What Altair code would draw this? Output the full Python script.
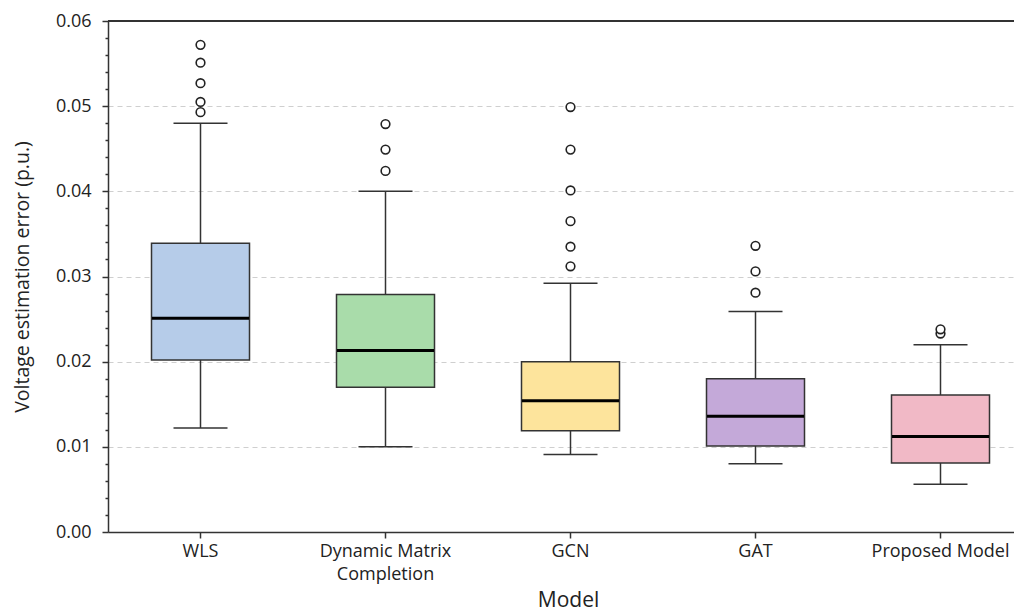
import altair as alt
import pandas as pd

models = ["WLS", "Dynamic Matrix Completion", "GCN", "GAT", "Proposed Model"]
colors = ["#b6cce9", "#a9dcaa", "#fde49c", "#c4a9d9", "#f1b9c6"]
q1 = [0.0202, 0.0170, 0.0119, 0.0101, 0.0081]
median = [0.0251, 0.0213, 0.0154, 0.0136, 0.0112]
q3 = [0.0339, 0.0279, 0.0200, 0.0180, 0.0161]
whisker_low = [0.0122, 0.0100, 0.0091, 0.0080, 0.0056]
whisker_high = [0.0480, 0.0400, 0.0292, 0.0259, 0.0220]
outliers_wls = [0.0493, 0.0505, 0.0527, 0.0551, 0.0572]
outliers_dmc = [0.0424, 0.0449, 0.0479]
outliers_gcn = [0.0312, 0.0335, 0.0365, 0.0401, 0.0449, 0.0499]
outliers_gat = [0.0281, 0.0306, 0.0336]
outliers_prop = [0.0233, 0.0238]
y_ticks = [round(i * 0.002, 3) for i in range(31)]

stats = pd.DataFrame({
    "model": models, "q1": q1, "median": median, "q3": q3,
    "lo": whisker_low, "hi": whisker_high,
})
out_rows = []
for m, vals in zip(models, [outliers_wls, outliers_dmc, outliers_gcn, outliers_gat, outliers_prop]):
    for v in vals:
        out_rows.append({"model": m, "value": v})
outs = pd.DataFrame(out_rows)

FONT = "Open Sans"
PLOT_W = 906
BAND_SPAN = 925
major_test = "abs(round(datum.value*100) - datum.value*100) < 0.001"

x_enc = alt.X(
    "model:N", sort=models,
    scale=alt.Scale(domain=models, paddingInner=0, paddingOuter=0, range=[0, BAND_SPAN]),
    axis=alt.Axis(
        title="Model", labelAngle=0, labelFontSize=18, labelFont=FONT, labelColor="#222",
        labelExpr="datum.label == 'Dynamic Matrix Completion' ? ['Dynamic Matrix', 'Completion'] : datum.label",
        labelLineHeight=23, labelPadding=4, tickSize=6, tickColor="#333", tickWidth=1.5,
        domainColor="#333", domainWidth=1.5, grid=False, labelOverlap=False, labelBound=False,
        titleFont=FONT, titleFontSize=21, titleFontWeight="normal", titleColor="#222",
        titleX=460, titleY=68, titleBaseline="middle",
    ),
)

y_scale = alt.Scale(domain=[0, 0.06], nice=False, zero=True)
y_axis = alt.Axis(
    title="Voltage estimation error (p.u.)", values=y_ticks, tickCount=100,
    labelExpr=major_test + " ? format(datum.value, '.2f') : ''",
    labelOverlap=False, labelFontSize=18, labelFont=FONT, labelColor="#222", labelPadding=11,
    tickSize={"condition": {"test": major_test, "value": 6}, "value": 3},
    tickColor="#333", tickWidth=1.5, domainColor="#333", domainWidth=1.5,
    grid=True, gridColor="#cfcfcf", gridDash=[5, 4], gridWidth=1,
    gridOpacity={"condition": {"test": major_test + " && datum.value > 0.001 && datum.value < 0.059", "value": 1}, "value": 0},
    titleFont=FONT, titleFontSize=19.5, titleFontWeight="normal", titleColor="#222",
    titleX=-86, titleY=255.5, titleAngle=-90, titleBaseline="middle",
)

base = alt.Chart(stats)

whisk = base.mark_rule(color="#333", strokeWidth=1.5).encode(
    x=x_enc, y=alt.Y("lo:Q", scale=y_scale, axis=y_axis), y2="hi:Q"
)
cap_lo = base.mark_tick(color="#333", size=54, thickness=1.5, opacity=1).encode(x=x_enc, y=alt.Y("lo:Q", scale=y_scale))
cap_hi = base.mark_tick(color="#333", size=54, thickness=1.5, opacity=1).encode(x=x_enc, y=alt.Y("hi:Q", scale=y_scale))
box = base.mark_bar(size=98, stroke="#333", strokeWidth=1.5, opacity=1).encode(
    x=x_enc, y=alt.Y("q1:Q", scale=y_scale), y2="q3:Q",
    color=alt.Color("model:N", scale=alt.Scale(domain=models, range=colors), legend=None),
)
med = base.mark_tick(color="#000", size=97, thickness=3, opacity=1).encode(x=x_enc, y=alt.Y("median:Q", scale=y_scale))
pts = alt.Chart(outs).mark_point(
    shape="circle", size=75, fill="white", stroke="#222", strokeWidth=1.6, opacity=1, filled=False
).encode(x=x_enc, y=alt.Y("value:Q", scale=y_scale))

top_frame = alt.Chart(stats).mark_rule(color="#333", strokeWidth=1.5).encode(
    x=alt.value(0), x2=alt.value(BAND_SPAN), y=alt.value(0)
)

chart = alt.layer(whisk, cap_lo, cap_hi, box, med, pts, top_frame).properties(
    width=PLOT_W, height=511,
    autosize=alt.AutoSizeParams(type="none"),
    padding={"left": 100, "top": 13, "right": 0, "bottom": 80},
).configure_view(strokeWidth=0).configure(background="white")

chart.save("out.html", embed_options={"renderer": "svg", "actions": False})
